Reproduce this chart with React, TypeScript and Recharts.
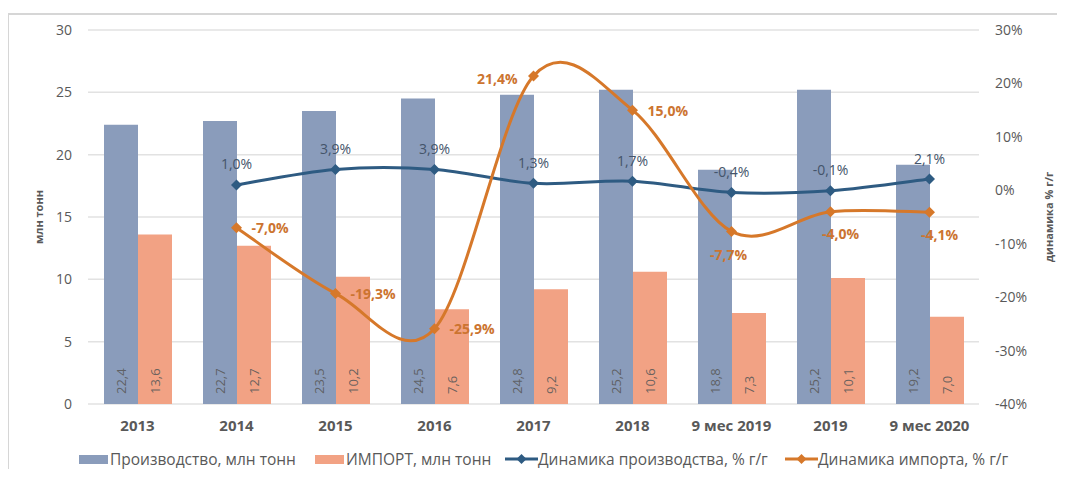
import React from 'react';
import { ComposedChart, Bar, Line, XAxis, YAxis, CartesianGrid, Legend, LabelList } from 'recharts';

const categories = ['2013', '2014', '2015', '2016', '2017', '2018', '9 мес 2019', '2019', '9 мес 2020'];
const production = [22.4, 22.7, 23.5, 24.5, 24.8, 25.2, 18.8, 25.2, 19.2];
const imports = [13.6, 12.7, 10.2, 7.6, 9.2, 10.6, 7.3, 10.1, 7.0];
const productionGrowth = [null, 1.0, 3.9, 3.9, 1.3, 1.7, -0.4, -0.1, 2.1];
const importGrowth = [null, -7.0, -19.3, -25.9, 21.4, 15.0, -7.7, -4.0, -4.1];
const leftTicks = [0, 5, 10, 15, 20, 25, 30];
const rightTicks = [-40, -30, -20, -10, 0, 10, 20, 30];

const data = categories.map((name, i) => ({
  name,
  production: production[i],
  imports: imports[i],
  productionGrowth: productionGrowth[i],
  importGrowth: importGrowth[i],
}));

const FONT = '"Open Sans", sans-serif';
const GREY = '#595959';
const BAR_BLUE = '#8A9CBB';
const BAR_ORANGE = '#F2A284';
const LINE_BLUE = '#2E5B82';
const LINE_ORANGE = '#D6782A';

const fmt = (v: number) => v.toFixed(1).replace('.', ',');

// Excel-style smoothed line (Catmull-Rom through every point)
const excelSmooth = (context: any) => {
  let pts: number[][] = [];
  return {
    areaStart() {},
    areaEnd() {},
    lineStart() {
      pts = [];
    },
    point(x: number, y: number) {
      pts.push([x, y]);
    },
    lineEnd() {
      if (!pts.length) return;
      context.moveTo(pts[0][0], pts[0][1]);
      for (let i = 0; i < pts.length - 1; i++) {
        const p0 = pts[i - 1] || pts[i];
        const p1 = pts[i];
        const p2 = pts[i + 1];
        const p3 = pts[i + 2] || p2;
        context.bezierCurveTo(
          p1[0] + (p2[0] - p0[0]) / 6,
          p1[1] + (p2[1] - p0[1]) / 6,
          p2[0] - (p3[0] - p1[0]) / 6,
          p2[1] - (p3[1] - p1[1]) / 6,
          p2[0],
          p2[1]
        );
      }
    },
  };
};

const Diamond = (color: string) => (props: any) => {
  const { cx, cy, value, index } = props;
  if (value == null || cx == null || cy == null) return <g key={index} />;
  const r = 5.5;
  return (
    <polygon
      key={index}
      points={`${cx},${cy - r} ${cx + r},${cy} ${cx},${cy + r} ${cx - r},${cy}`}
      fill={color}
    />
  );
};

const BarValue = (props: any) => {
  const { x, y, width, height, value } = props;
  const cx = x + width / 2;
  const by = y + height - 10;
  return (
    <text
      x={cx}
      y={by}
      transform={`rotate(-90, ${cx}, ${by})`}
      textAnchor="start"
      dominantBaseline="central"
      fill={GREY}
      fillOpacity={0.9}
      fontSize={13}
      fontFamily={FONT}
    >
      {fmt(value)}
    </text>
  );
};

const ProdLabel = (props: any) => {
  const { x, y, value } = props;
  if (value == null) return null;
  return (
    <text x={x} y={y - 21} textAnchor="middle" dominantBaseline="central" fill="#44546A" fontSize={14} fontFamily={FONT}>
      {fmt(value) + '%'}
    </text>
  );
};

const importLabelSide = ['', 'right', 'right', 'right', 'left', 'right', 'below', 'belowRight', 'belowRight'];

const ImportLabel = (props: any) => {
  const { x, y, value, index } = props;
  if (value == null) return null;
  const side = importLabelSide[index];
  let tx = x + 15;
  let ty = y;
  let anchor: 'start' | 'middle' | 'end' = 'start';
  if (side === 'left') {
    tx = x - 16;
    ty = y + 3;
    anchor = 'end';
  } else if (side === 'below') {
    tx = x - 3;
    ty = y + 23;
    anchor = 'middle';
  } else if (side === 'belowRight') {
    tx = x + 10;
    ty = y + 22;
    anchor = 'middle';
  }
  return (
    <text x={tx} y={ty} textAnchor={anchor} dominantBaseline="central" fill="#CC7430" fontWeight={700} fontSize={14} fontFamily={FONT}>
      {fmt(value) + '%'}
    </text>
  );
};

const AxisTitle = (props: any) => {
  const { viewBox, value, dx } = props;
  const x = viewBox.x + dx;
  const y = viewBox.y + viewBox.height / 2;
  return (
    <text
      x={x}
      y={y}
      transform={`rotate(-90, ${x}, ${y})`}
      textAnchor="middle"
      dominantBaseline="central"
      fill={GREY}
      fontWeight={700}
      fontSize={11}
      fontFamily={FONT}
    >
      {value}
    </text>
  );
};

const legendItems = [
  { label: 'Производство, млн тонн', color: BAR_BLUE, kind: 'rect', left: 79 },
  { label: 'ИМПОРТ, млн тонн', color: BAR_ORANGE, kind: 'rect', left: 315 },
  { label: 'Динамика производства, % г/г', color: LINE_BLUE, kind: 'line', left: 505 },
  { label: 'Динамика импорта, % г/г', color: LINE_ORANGE, kind: 'line', left: 785 },
];

const renderLegend = () => (
  <div style={{ position: 'relative', width: 1065, height: 20, fontFamily: FONT, fontSize: 15.5, color: GREY }}>
    {legendItems.map((it) => (
      <div key={it.label} style={{ position: 'absolute', left: it.left, top: 0, display: 'flex', alignItems: 'center', height: 20, whiteSpace: 'nowrap' }}>
        {it.kind === 'rect' ? (
          <span style={{ display: 'inline-block', width: 29, height: 9, background: it.color, marginRight: 2 }} />
        ) : (
          <svg width={33} height={12} style={{ marginRight: 0 }}>
            <line x1={0} y1={6} x2={33} y2={6} stroke={it.color} strokeWidth={3} />
            <polygon points="16.5,1 21.5,6 16.5,11 11.5,6" fill={it.color} />
          </svg>
        )}
        <span>{it.label}</span>
      </div>
    ))}
  </div>
);

export default function App() {
  return (
    <div style={{ position: 'relative', width: 1065, height: 477, margin: -8, background: '#fff', fontFamily: FONT, overflow: 'hidden' }}>
      <div
        style={{
          position: 'absolute',
          left: 7,
          top: 13,
          width: 1080,
          height: 480,
          borderTop: '2px solid #d6d6d6',
          borderLeft: '2px solid #d6d6d6',
        }}
      />
      <div style={{ position: 'absolute', left: 0, top: 0 }}>
        <ComposedChart
          width={1065}
          height={477}
          data={data}
          margin={{ top: 30, right: 0, bottom: 43, left: 0 }}
          barCategoryGap={16}
          barGap={0}
        >
          <CartesianGrid yAxisId="left" vertical={false} stroke="#e2e2e2" strokeWidth={1.5} />
          <XAxis
            dataKey="name"
            height={30}
            axisLine={false}
            tickLine={false}
            tickSize={0}
            tickMargin={16}
            interval={0}
            tick={{ fill: GREY, fontSize: 15, fontWeight: 700, fontFamily: FONT }}
          />
          <YAxis
            yAxisId="left"
            width={88}
            domain={[0, 30]}
            ticks={leftTicks}
            axisLine={false}
            tickLine={false}
            tickSize={0}
            tickMargin={16}
            tick={{ fill: GREY, fontSize: 14, fontFamily: FONT }}
            label={<AxisTitle value="млн тонн" dx={38} />}
          />
          <YAxis
            yAxisId="right"
            orientation="right"
            width={86}
            domain={[-40, 30]}
            ticks={rightTicks}
            axisLine={false}
            tickLine={false}
            tickSize={0}
            tickMargin={16}
            tickFormatter={(v: number) => `${v}%`}
            tick={{ fill: GREY, fontSize: 14, fontFamily: FONT }}
            label={<AxisTitle value="динамика % г/г" dx={69} />}
          />
          <Bar yAxisId="left" dataKey="production" name="Производство, млн тонн" fill={BAR_BLUE} isAnimationActive={false}>
            <LabelList dataKey="production" content={BarValue} />
          </Bar>
          <Bar yAxisId="left" dataKey="imports" name="ИМПОРТ, млн тонн" fill={BAR_ORANGE} isAnimationActive={false}>
            <LabelList dataKey="imports" content={BarValue} />
          </Bar>
          <Line
            yAxisId="right"
            dataKey="productionGrowth"
            name="Динамика производства, % г/г"
            type={excelSmooth as any}
            stroke={LINE_BLUE}
            strokeWidth={3}
            dot={Diamond(LINE_BLUE)}
            activeDot={false}
            isAnimationActive={false}
          >
            <LabelList dataKey="productionGrowth" content={ProdLabel} />
          </Line>
          <Line
            yAxisId="right"
            dataKey="importGrowth"
            name="Динамика импорта, % г/г"
            type={excelSmooth as any}
            stroke={LINE_ORANGE}
            strokeWidth={3}
            dot={Diamond(LINE_ORANGE)}
            activeDot={false}
            isAnimationActive={false}
          >
            <LabelList dataKey="importGrowth" content={ImportLabel} />
          </Line>
          <Legend
            layout="horizontal"
            verticalAlign="middle"
            align="center"
            content={renderLegend}
            wrapperStyle={{ left: 0, top: 449, width: 1065, height: 20 }}
          />
        </ComposedChart>
      </div>
    </div>
  );
}
